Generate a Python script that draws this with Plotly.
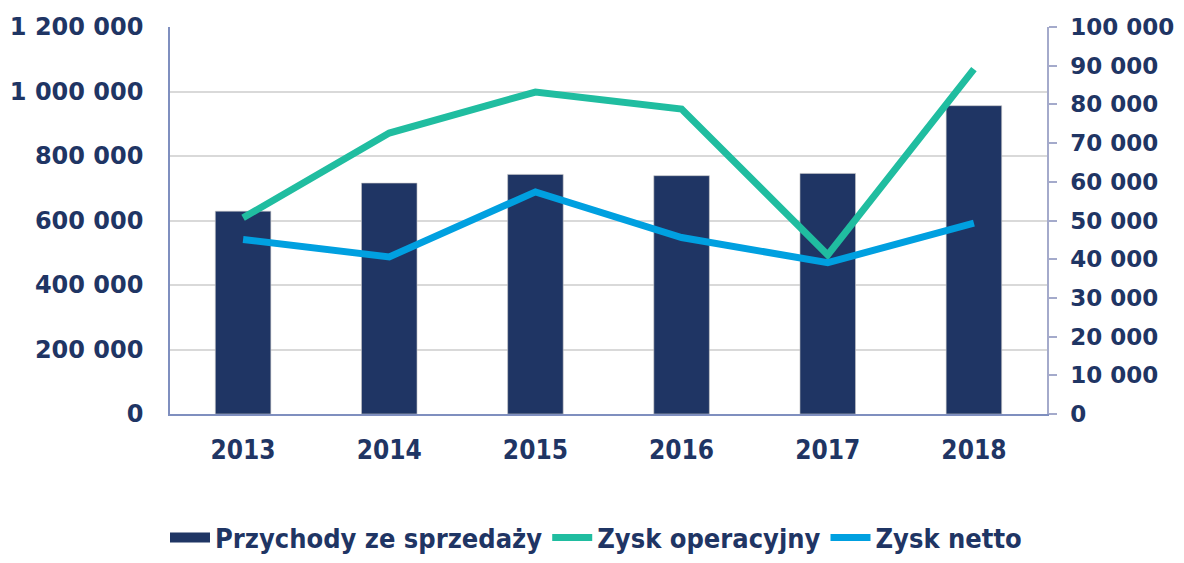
import plotly.graph_objects as go

years = ["2013", "2014", "2015", "2016", "2017", "2018"]
przychody = [629000, 716000, 743000, 739000, 746000, 956000]
zysk_operacyjny = [50700, 72600, 83200, 78800, 41100, 89100]
zysk_netto = [45100, 40600, 57400, 45600, 39100, 49300]

left_ticks = [0, 200000, 400000, 600000, 800000, 1000000, 1200000]
right_ticks = [0, 10000, 20000, 30000, 40000, 50000, 60000, 70000, 80000, 90000, 100000]

NAVY = "#1F3564"
GREEN = "#20BDA0"
BLUE = "#00A0E0"
TXT = "#1F3564"
FONT_MAIN = "DejaVu Sans, Verdana, sans-serif"
FONT_COND = "Liberation Sans Narrow, DejaVu Sans Condensed, Arial Narrow, sans-serif"

fig = go.Figure()
fig.add_trace(go.Bar(
    x=years, y=przychody, name="Przychody ze sprzedaży",
    marker=dict(color=NAVY, line=dict(color="rgba(200,200,200,0.6)", width=1)),
    yaxis="y", showlegend=False,
))
# legend entry for bars drawn as a wide block
fig.add_trace(go.Scatter(
    x=[None], y=[None], name="Przychody ze sprzedaży", mode="lines",
    line=dict(color=NAVY, width=15), yaxis="y",
))
fig.add_trace(go.Scatter(
    x=years, y=zysk_operacyjny, name="Zysk operacyjny", mode="lines",
    line=dict(color=GREEN, width=7), yaxis="y2",
))
fig.add_trace(go.Scatter(
    x=years, y=zysk_netto, name="Zysk netto", mode="lines",
    line=dict(color=BLUE, width=7), yaxis="y2",
))

fig.update_layout(
    width=1176, height=555,
    margin=dict(l=162, r=137, t=19, b=149, autoexpand=False),
    plot_bgcolor="white", paper_bgcolor="white",
    separators=", ",
    bargap=0.62,
    showlegend=True,
    legend=dict(
        orientation="h", x=0.5, xref="container", xanchor="center",
        y=0.045, yref="container", yanchor="middle",
        font=dict(family=FONT_COND, size=27, color=TXT, weight="bold"),
        itemwidth=40, traceorder="normal",
    ),
    xaxis=dict(
        type="category", showgrid=False, automargin=False,
        showline=True, linecolor="#7F8FBF", linewidth=1.5,
        tickfont=dict(family=FONT_COND, size=26, color=TXT, weight="bold"),
        ticks="", ticklabelstandoff=12,
    ),
    yaxis=dict(
        range=[0, 1200000], tickvals=left_ticks, tickformat=",d",
        showgrid=True, gridcolor="#D9D9D9", gridwidth=1.5,
        showline=True, linecolor="#7F8FBF", linewidth=1.5,
        zeroline=False, automargin=False,
        tickfont=dict(family=FONT_MAIN, size=24, color=TXT, weight="bold"),
        ticks="", ticklabelstandoff=20,
    ),
    yaxis2=dict(
        range=[0, 100000], tickvals=right_ticks, tickformat=",d",
        overlaying="y", side="right", showgrid=False,
        showline=True, linecolor="#A4AACB", linewidth=1.5,
        zeroline=False, automargin=False,
        ticks="outside", ticklen=8, tickcolor="#A4AACB", tickwidth=1.5,
        tickfont=dict(family=FONT_MAIN, size=23, color=TXT, weight="bold"),
        ticklabelstandoff=9,
    ),
)

fig.write_html("out.html")
